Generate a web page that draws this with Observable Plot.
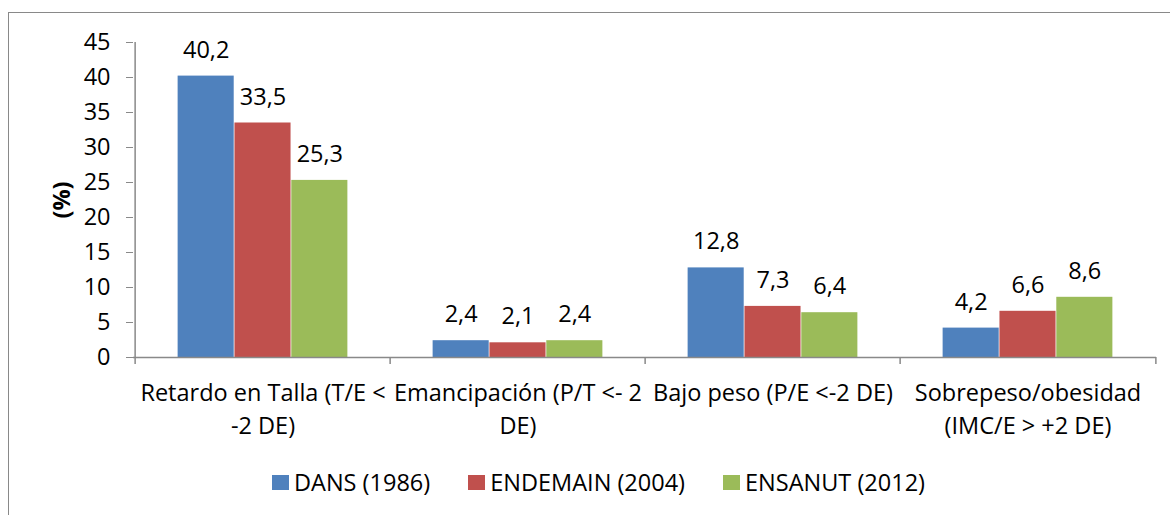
<!DOCTYPE html>
<html>
<head>
<meta charset="utf-8">
<script src="https://cdn.jsdelivr.net/npm/d3@7"></script>
<script src="https://cdn.jsdelivr.net/npm/@observablehq/plot@0.6"></script>
<style>
  html, body { margin: 0; padding: 0; background: #fff; }
  body { width: 1170px; height: 515px; position: relative; overflow: hidden; font-family: "Open Sans", Lato, sans-serif; }
  #frame { position: absolute; left: 8px; top: 12px; width: 1300px; height: 700px; border-left: 1px solid #898989; border-top: 1px solid #898989; box-sizing: border-box; pointer-events: none; }
  #chart { position: absolute; left: 0; top: 0; }
  #legend { position: absolute; left: 272px; top: 466px; display: flex; align-items: center; font-size: 23.5px; color: #000; line-height: 32px; }
  #legend .item { display: flex; align-items: center; margin-right: 38px; }
  #legend .sw { width: 17px; height: 15px; margin-right: 5px; }
</style>
</head>
<body>
<div id="chart"></div>
<div id="legend"></div>
<div id="frame"></div>
<script>
const categories = [
  "Retardo en Talla (T/E <\n-2 DE)",
  "Emancipación (P/T <- 2\nDE)",
  "Bajo peso (P/E <-2 DE)",
  "Sobrepeso/obesidad\n(IMC/E > +2 DE)"
];
const seriesNames = ["DANS (1986)", "ENDEMAIN (2004)", "ENSANUT (2012)"];
const dans = [40.2, 2.4, 12.8, 4.2];
const endemain = [33.5, 2.1, 7.3, 6.6];
const ensanut = [25.3, 2.4, 6.4, 8.6];
const colors = ["#4F81BD", "#C0504D", "#9BBB59"];
const yTicks = [0, 5, 10, 15, 20, 25, 30, 35, 40, 45];

const seriesValues = [dans, endemain, ensanut];
const W = 1170, H = 450, mL = 133, mR = 14, mT = 42, mB = 93;
const bw = (W - mL - mR) / categories.length;
const bar = bw / 4.5;
const gapHalf = bar * 0.75;
const gray = "#898989";
const fmt = v => String(v).replace(".", ",");
const font = "'Open Sans', Lato, sans-serif";
const fs = 23.5;

const marks = [];
seriesValues.forEach((vals, i) => {
  const data = categories.map((c, j) => ({cat: c, value: vals[j]}));
  marks.push(Plot.barY(data, {
    x: "cat", y: "value", fill: colors[i],
    insetLeft: gapHalf + i * bar,
    insetRight: bw - gapHalf - (i + 1) * bar
  }));
  marks.push(Plot.text(data, {
    x: "cat", y: "value", text: d => fmt(d.value),
    dx: (i - 1) * bar, dy: -26, fontSize: fs, fill: "#000", textAnchor: "middle", lineAnchor: "middle"
  }));
});
// axes lines
marks.push(Plot.ruleY([0], {stroke: gray, strokeWidth: 1.5}));
marks.push(Plot.ruleX([categories[0]], {x: d => d, y1: 0, y2: 45, dx: -bw / 2, stroke: gray, strokeWidth: 1.5}));
marks.push(Plot.ruleX(categories, {x: d => d, y1: 0, y2: -1, dx: -bw / 2, stroke: gray, strokeWidth: 1.5}));
marks.push(Plot.ruleX([categories[categories.length - 1]], {x: d => d, y1: 0, y2: -1, dx: bw / 2, stroke: gray, strokeWidth: 1.5}));
marks.push(Plot.axisY({ticks: yTicks, tickSize: 7, tickPadding: 16, stroke: gray, fill: "#000", fontSize: fs, label: null}));
marks.push(Plot.axisX({tickSize: 0, tickPadding: 20, fontSize: fs, fill: "#000", label: null, lineHeight: 1.4}));
marks.push(Plot.text(["(%)"], {frameAnchor: "left", text: d => d, rotate: -90, dx: -71, textAnchor: "middle", lineAnchor: "middle", fontSize: fs, fontWeight: "bold", fill: "#000"}));

const chart = Plot.plot({
  width: W, height: H,
  marginLeft: mL, marginRight: mR, marginTop: mT, marginBottom: mB,
  style: {fontFamily: font, background: "transparent", overflow: "visible"},
  x: {type: "band", domain: categories, padding: 0, axis: null},
  y: {domain: [0, 45], axis: null},
  marks
});
document.getElementById("chart").appendChild(chart);

const legend = d3.select("#legend");
seriesNames.forEach((n, i) => {
  const it = legend.append("div").attr("class", "item");
  it.append("div").attr("class", "sw").style("background", colors[i]);
  it.append("span").text(n);
});
</script>
</body>
</html>
